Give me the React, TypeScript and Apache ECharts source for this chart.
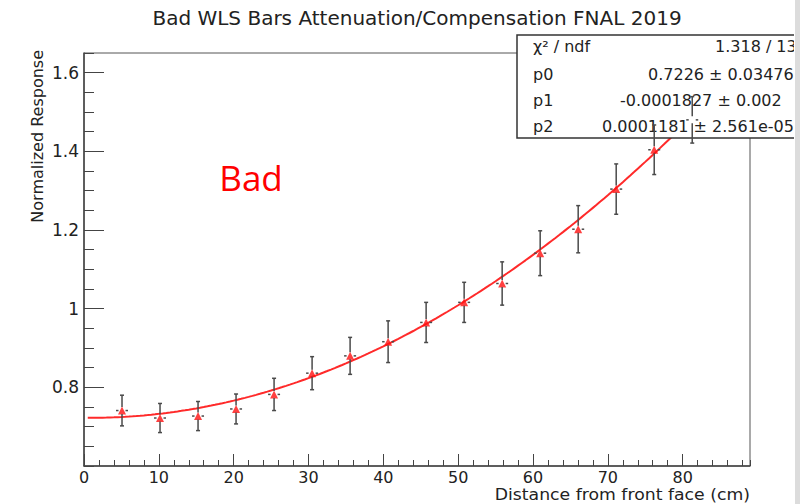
import React, { useEffect, useRef } from "react";
import * as echarts from "echarts";

// Measurement positions along the bar (cm)
const distances = [5.08, 10.16, 15.24, 20.32, 25.4, 30.48, 35.56, 40.64, 45.72, 50.8, 55.88, 60.96, 66.04, 71.12, 76.2, 81.28];
// Normalized response values
const responses = [0.741, 0.722, 0.727, 0.745, 0.782, 0.836, 0.88, 0.916, 0.965, 1.016, 1.064, 1.141, 1.202, 1.304, 1.404, 1.48];
// Vertical errors
const errors = [0.039, 0.037, 0.037, 0.038, 0.041, 0.042, 0.047, 0.053, 0.051, 0.051, 0.055, 0.057, 0.06, 0.064, 0.063, 0.059];

// pol2 fit parameters from the stats box
const fitP0 = 0.7226;
const fitP1 = -0.0001827;
const fitP2 = 0.0001181;

const xTickValues = [0, 10, 20, 30, 40, 50, 60, 70, 80];
const yTickValues = [0.8, 1, 1.2, 1.4, 1.6];

const statNames = ["χ² / ndf", "p0", "p1", "p2"];
const statValues = ["1.318 / 13", "0.7226 ± 0.03476", "-0.0001827 ± 0.002", "0.0001181 ± 2.561e-05"];

const titleText = "Bad WLS Bars Attenuation/Compensation FNAL 2019";
const xTitle = "Distance from front face (cm)";
const yTitle = "Normalized Response";
const tagText = "Bad";

const FONT = "DejaVu Sans";

export default function App() {
  const ref = useRef<HTMLDivElement>(null);
  useEffect(() => {
    document.body.style.margin = "0";
    const chart = echarts.init(ref.current!, null, { renderer: "svg" });

    const fitData: number[][] = [];
    for (let x = 0.5; x <= 89.001; x += 0.5) {
      fitData.push([x, fitP0 + fitP1 * x + fitP2 * x * x]);
    }
    const pts = distances.map((d, i) => [d, responses[i], errors[i]]);

    const statStartX = [715, 648, 620, 602];
    const statY = [46, 74, 100, 126];

    const graphics: any[] = [
      {
        type: "text",
        x: 417,
        y: 18,
        z: 50,
        style: { text: titleText, font: `20px "${FONT}"`, fill: "#222", align: "center", verticalAlign: "middle" },
      },
      {
        type: "text",
        x: 750,
        y: 503,
        scaleX: 1.08,
        z: 50,
        style: { text: xTitle, font: `16px "${FONT}"`, fill: "#222", align: "right", verticalAlign: "bottom" },
      },
      {
        type: "text",
        x: 37,
        y: 50,
        rotation: Math.PI / 2,
        z: 50,
        style: { text: yTitle, font: `16px "${FONT}"`, fill: "#222", align: "right", verticalAlign: "middle" },
      },
      {
        type: "text",
        x: 251,
        y: 177,
        z: 50,
        style: { text: tagText, font: `35px "Open Sans"`, fill: "#ff0000", align: "center", verticalAlign: "middle" },
      },
      {
        type: "rect",
        z: 10,
        shape: { x: 517, y: 35, width: 300, height: 103 },
        style: { fill: "#ffffff", stroke: "#333", lineWidth: 1.5 },
      },
    ];
    statNames.forEach((n, i) => {
      graphics.push({
        type: "text",
        x: 533,
        y: statY[i],
        z: 11,
        style: { text: n, font: `16px "${FONT}"`, fill: "#222", verticalAlign: "middle" },
      });
      graphics.push({
        type: "text",
        x: statStartX[i],
        y: statY[i],
        z: 11,
        style: { text: statValues[i], font: `16px "${FONT}"`, fill: "#222", verticalAlign: "middle" },
      });
    });
    graphics.push(
      { type: "rect", z: 100, shape: { x: 794, y: 0, width: 1, height: 504 }, style: { fill: "#fff" } },
      { type: "rect", z: 100, shape: { x: 795, y: 0, width: 5, height: 504 }, style: { fill: "#dcdcdc" } },
      { type: "rect", z: 100, shape: { x: 800, y: 0, width: 9, height: 504 }, style: { fill: "#fff" } }
    );

    const axisLine = { show: true, lineStyle: { color: "#444", width: 1.5 } };

    const option: any = {
      animation: false,
      backgroundColor: "#fff",
      grid: { left: 84, top: 53, right: 59, bottom: 38, show: true, borderColor: "#555", borderWidth: 1, backgroundColor: "transparent" },
      xAxis: [
        {
          type: "value",
          min: 0,
          max: 89,
          interval: 10,
          axisLine,
          splitLine: { show: false },
          axisTick: { inside: true, length: 12, customValues: xTickValues, lineStyle: { color: "#444" } },
          axisLabel: {
            customValues: xTickValues,
            margin: 3,
            fontFamily: FONT,
            fontSize: 16,
            lineHeight: 16,
            color: "#222",
            formatter: (v: number) => String(v),
          },
        },
        {
          type: "value",
          min: 0,
          max: 89,
          interval: 2,
          position: "bottom",
          axisLine: { show: false },
          splitLine: { show: false },
          axisTick: { inside: true, length: 6, lineStyle: { color: "#444" } },
          axisLabel: { show: false },
        },
      ],
      yAxis: [
        {
          type: "value",
          min: 0.6,
          max: 1.65,
          interval: 0.2,
          axisLine,
          splitLine: { show: false },
          axisTick: { inside: true, length: 20, customValues: yTickValues, lineStyle: { color: "#444" } },
          axisLabel: {
            customValues: yTickValues,
            margin: 5,
            fontFamily: FONT,
            fontSize: 17,
            color: "#222",
            formatter: (v: number) => String(Math.round(v * 10) / 10),
          },
        },
        {
          type: "value",
          min: 0.6,
          max: 1.65,
          interval: 0.05,
          position: "left",
          axisLine: { show: false },
          splitLine: { show: false },
          axisTick: { inside: true, length: 10, lineStyle: { color: "#444" } },
          axisLabel: { show: false },
        },
      ],
      series: [
        {
          type: "line",
          data: fitData,
          showSymbol: false,
          symbol: "none",
          lineStyle: { color: "#ff2a2a", width: 2 },
          z: 3,
          silent: true,
        },
        {
          type: "scatter",
          data: pts.map((p) => [p[0], p[1]]),
          symbol: "triangle",
          symbolSize: 8,
          itemStyle: { color: "#ff1010" },
          z: 5,
          silent: true,
        },
        {
          type: "custom",
          data: pts,
          encode: { x: 0, y: 1 },
          z: 20,
          clip: false,
          silent: true,
          renderItem: (params: any, api: any) => {
            const x = api.value(0);
            const y = api.value(1);
            const e = api.value(2);
            const c = api.coord([x, y]);
            const t = api.coord([x, y + e]);
            const b = api.coord([x, y - e]);
            const style = { stroke: "#4a4a4a", lineWidth: 1.5 };
            const g = 3.5;
            return {
              type: "group",
              children: [
                { type: "line", shape: { x1: c[0], y1: t[1], x2: c[0], y2: c[1] - g }, style },
                { type: "line", shape: { x1: c[0], y1: c[1] + g, x2: c[0], y2: b[1] }, style },
                { type: "line", shape: { x1: c[0] - 2, y1: t[1], x2: c[0] + 2, y2: t[1] }, style },
                { type: "line", shape: { x1: c[0] - 2, y1: b[1], x2: c[0] + 2, y2: b[1] }, style },
                { type: "line", shape: { x1: c[0] - 6, y1: c[1], x2: c[0] - 3.5, y2: c[1] }, style },
                { type: "line", shape: { x1: c[0] + 3.5, y1: c[1], x2: c[0] + 6, y2: c[1] }, style },
              ],
            };
          },
        },
      ],
      graphic: graphics,
    };
    chart.setOption(option);
    return () => chart.dispose();
  }, []);
  return <div ref={ref} style={{ width: 809, height: 504, background: "#fff" }} />;
}
